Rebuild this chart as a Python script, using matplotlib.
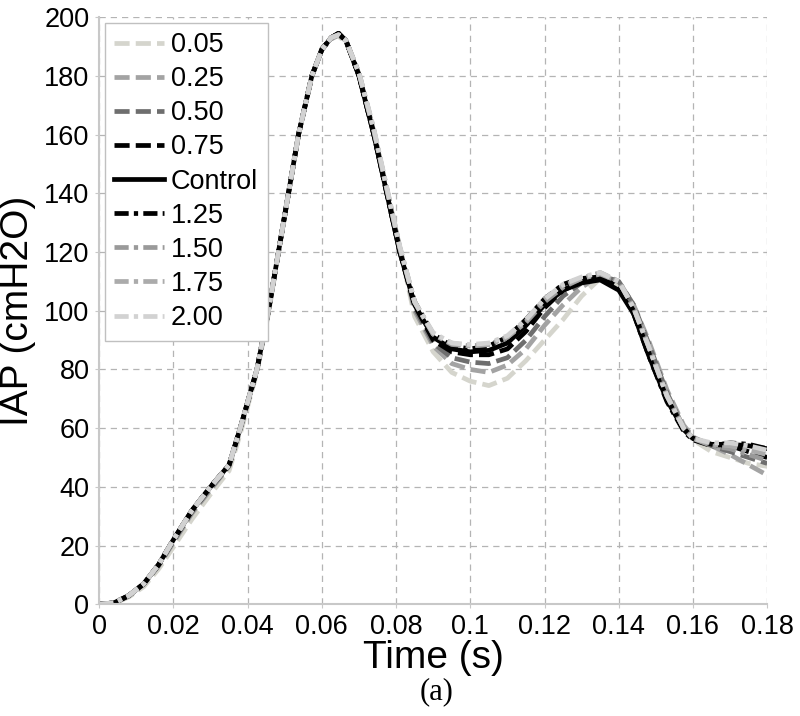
import matplotlib
matplotlib.use('Agg')
import matplotlib.pyplot as plt

time_s = [0, 0.004, 0.008, 0.012, 0.016, 0.02, 0.025, 0.03, 0.035, 0.038,
          0.0425, 0.0456, 0.0483, 0.051, 0.0537, 0.0573, 0.06, 0.0625, 0.0645, 0.0665,
          0.07, 0.074, 0.0775, 0.081,
          0.085, 0.09, 0.095, 0.1, 0.105, 0.11, 0.115, 0.12, 0.125, 0.13, 0.135, 0.14,
          0.144, 0.148, 0.153, 0.1575, 0.16, 0.165, 0.17, 0.175, 0.18]

labels = ['0.05', '0.25', '0.50', '0.75', 'Control', '1.25', '1.50', '1.75', '2.00']

iap_005 = [0, 0.3, 2.5, 6, 12, 19.5, 29, 37.5, 45.5, 58,
           79, 99, 119.5, 139.5, 159.5, 179.5, 189.5, 193, 193.5, 191.5,
           180.5, 161, 141.5, 121.5,
           98, 86, 79, 76, 74.5, 77, 83, 90, 97, 105, 111, 109,
           102, 89, 72, 60, 56, 52, 50, 48, 47]
iap_025 = [0, 0.4, 2.8, 6.8, 13, 21, 31, 39, 47, 59.5,
           79.5, 99.5, 120, 140, 160, 180, 189, 192.5, 194, 192,
           180.5, 161, 141, 121.5,
           100, 88, 82, 80, 79, 81.5, 87, 95, 102, 108, 112, 110,
           102, 90, 73, 61, 57, 54, 51, 47.5, 44]
iap_050 = [0, 0.4, 2.9, 6.9, 13.2, 21.5, 31.5, 39.5, 47.2, 59.8,
           79.8, 99.8, 120, 140, 160, 180, 189, 193, 194, 192,
           180.5, 160.5, 141, 121,
           101, 89, 84, 82.5, 82, 84, 90, 98, 105, 109.5, 112, 110,
           102, 89, 72, 60, 56.5, 54, 52, 50, 48]
iap_075 = [0, 0.5, 3, 7, 13.5, 22, 32, 40, 47.5, 60,
           80, 100, 120, 140, 160, 180, 189, 193, 194.5, 192,
           180, 160, 140, 120,
           102, 90, 86, 85, 85, 87, 93, 101, 107, 110, 111, 108,
           100, 86, 70, 60, 56.5, 54.5, 54, 52, 50]
iap_control = [0, 0.5, 3, 7, 13.5, 22, 32, 40, 47.5, 60,
               80, 100, 120, 140, 160, 180, 189, 193, 194.5, 192,
               180, 160, 140, 120,
               102, 91, 87, 86, 86.5, 89, 95, 102, 107, 109.5, 110.5, 107,
               99, 85, 69.5, 59.5, 56.5, 54.5, 54.5, 54, 53]
iap_125 = [0, 0.5, 3, 7, 13.5, 22, 32, 40, 47.5, 60,
           80, 100, 120, 140, 160, 180, 189, 193, 194.5, 192,
           180, 160, 140, 120,
           103, 92, 88, 87, 88, 91, 97, 104, 109, 111, 111.5, 108,
           99, 85, 69, 59, 56, 54, 55, 54.5, 53]
iap_150 = [0, 0.5, 3, 7, 13.5, 22, 32, 40, 47.5, 60,
           80, 100, 120, 140, 160, 180, 189, 193, 194, 192,
           181, 161.5, 141.5, 121.5,
           103, 92, 88.5, 88, 88.5, 91, 96, 103, 108, 111, 113, 110,
           101, 88, 71, 60, 56.5, 54, 53, 51, 49]
iap_175 = [0, 0.5, 3, 7, 13.5, 22, 32, 40, 47.5, 60,
           80, 100, 120, 140, 160, 180, 189, 193, 194, 192,
           181, 161.5, 141.5, 121.5,
           103, 92, 89, 88, 88.5, 91, 96.5, 104, 108.5, 111, 112.5, 110,
           101, 88, 71, 60, 56.5, 54.5, 54, 52.5, 51]
iap_200 = [0, 0.5, 3, 7, 13.5, 22, 32, 40, 47.5, 60,
           80, 100, 120, 140, 160, 180, 189, 193, 194, 192,
           181, 162, 142, 122,
           103, 92.5, 89, 88.5, 89, 91.5, 97, 104, 109, 111.5, 113, 110,
           101, 88, 71, 60, 56.5, 55, 55, 54, 52.5]

series = [iap_005, iap_025, iap_050, iap_075, iap_control,
          iap_125, iap_150, iap_175, iap_200]

dash = (0, (3.2, 1.3))
dashdot = (0, (3.0, 1.1, 0.9, 1.1))
styles = [
    ('#d5d5cd', dash), ('#a3a3a3', dash), ('#6e6e6e', dash), ('#000000', dash),
    ('#000000', '-'), ('#000000', dashdot), ('#9a9a9a', dashdot),
    ('#ababab', dashdot), ('#d2d2d2', dashdot),
]

plt.rcParams['font.family'] = ['Liberation Sans', 'DejaVu Sans']

fig = plt.figure(figsize=(8.0, 7.16), dpi=100)
ax = fig.add_axes([0.124, 0.156, 0.835, 0.82])

for vals, lab, (col, ls) in zip(series, labels, styles):
    ax.plot(time_s, vals, color=col, linestyle=ls, linewidth=3.4, label=lab)

ax.set_xlim(0, 0.18)
ax.set_ylim(0, 200)
ax.set_xticks([0, 0.02, 0.04, 0.06, 0.08, 0.1, 0.12, 0.14, 0.16, 0.18])
ax.set_xticklabels(['0', '0.02', '0.04', '0.06', '0.08', '0.1', '0.12', '0.14', '0.16', '0.18'])
ax.set_yticks(range(0, 201, 20))
ax.tick_params(labelsize=19.5, length=3, color='#c8c8c8', pad=4)
ax.grid(True, color='#b4b4b4', linestyle=(0, (5, 4)), linewidth=0.9)
ax.set_axisbelow(True)
for s in ['top', 'right']:
    ax.spines[s].set_visible(False)
for s in ['left', 'bottom']:
    ax.spines[s].set_color('#c8c8c8')
    ax.spines[s].set_linewidth(1.5)

ax.set_xlabel('Time (s)', fontsize=28, labelpad=0)
ax.set_ylabel('IAP (cmH2O)', fontsize=28, labelpad=6)

leg = ax.legend(loc='upper left', fontsize=19.5, frameon=True, fancybox=False,
                framealpha=1, edgecolor='#c0c0c0', handlelength=1.85,
                handletextpad=0.25, labelspacing=0.3, borderpad=0.35,
                borderaxespad=0.2)
leg.get_frame().set_linewidth(1.0)

fig.text(0.546, 0.034, '(a)', fontsize=22, ha='center', va='center',
         family=['Liberation Serif', 'DejaVu Serif'])

fig.savefig('out.png', dpi=100)
